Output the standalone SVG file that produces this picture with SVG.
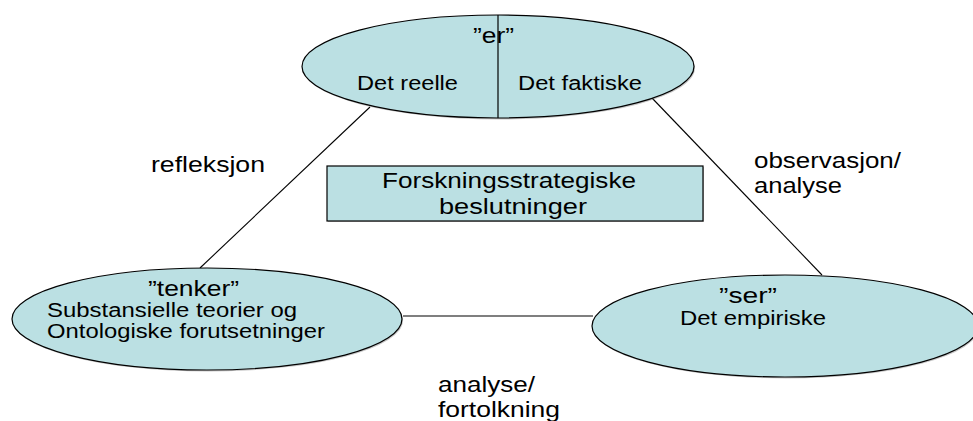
<svg xmlns="http://www.w3.org/2000/svg" width="973" height="421" viewBox="0 0 973 421">
<style>
.shape{fill:#bbe0e3;stroke:#000;stroke-width:1.2}
.shadow{fill:#808080;opacity:0.45}
.conn line{stroke:#000;stroke-width:1.1}
text{font-family:"Liberation Sans",Arial,sans-serif;fill:#000}
.s{font-size:20px}
.l{font-size:22px}
</style>
<rect width="973" height="421" fill="#fff"/>
<g class="conn" id="connectors">
<line x1="370" y1="107" x2="200" y2="268"/>
<line x1="652" y1="98" x2="822" y2="275"/>
<line x1="403" y1="316" x2="593" y2="316"/>
</g>
<g id="node-er">
<ellipse class="shadow" cx="499" cy="68" rx="196" ry="51.5"/>
<ellipse class="shape" cx="498" cy="66.5" rx="196" ry="51.5"/>
<line x1="498" y1="15" x2="498" y2="118" stroke="#000" stroke-width="1.2"/>
<text class="l" x="473" y="43" textLength="41" lengthAdjust="spacingAndGlyphs">”er”</text>
<text class="s" x="357" y="90" textLength="101" lengthAdjust="spacingAndGlyphs">Det reelle</text>
<text class="s" x="518" y="90" textLength="124" lengthAdjust="spacingAndGlyphs">Det faktiske</text>
</g>
<g id="node-tenker">
<ellipse class="shadow" cx="208" cy="320.5" rx="195" ry="51"/>
<ellipse class="shape" cx="207" cy="319" rx="195" ry="51"/>
<text class="l" x="148" y="296" textLength="91" lengthAdjust="spacingAndGlyphs">”tenker”</text>
<text class="s" x="47" y="317" textLength="250" lengthAdjust="spacingAndGlyphs">Substansielle teorier og</text>
<text class="s" x="47" y="338" textLength="278" lengthAdjust="spacingAndGlyphs">Ontologiske forutsetninger</text>
</g>
<g id="node-ser">
<ellipse class="shadow" cx="786" cy="327.5" rx="193" ry="51"/>
<ellipse class="shape" cx="785" cy="326" rx="193" ry="51"/>
<text class="l" x="719" y="303" textLength="58" lengthAdjust="spacingAndGlyphs">”ser”</text>
<text class="s" x="680" y="325" textLength="146" lengthAdjust="spacingAndGlyphs">Det empiriske</text>
</g>
<g id="node-box">
<rect class="shadow" x="328" y="167" width="376" height="55"/>
<rect class="shape" x="327" y="166" width="376" height="55"/>
<text class="l" x="382" y="188" textLength="254" lengthAdjust="spacingAndGlyphs">Forskningsstrategiske</text>
<text class="l" x="439" y="214" textLength="148" lengthAdjust="spacingAndGlyphs">beslutninger</text>
</g>
<g id="labels">
<text class="l" x="151" y="172" textLength="114" lengthAdjust="spacingAndGlyphs">refleksjon</text>
<text class="l" x="754" y="168" textLength="147" lengthAdjust="spacingAndGlyphs">observasjon/</text>
<text class="l" x="754" y="193" textLength="88" lengthAdjust="spacingAndGlyphs">analyse</text>
<text class="l" x="438" y="392" textLength="97" lengthAdjust="spacingAndGlyphs">analyse/</text>
<text class="l" x="438" y="417" textLength="122" lengthAdjust="spacingAndGlyphs">fortolkning</text>
</g>
</svg>
